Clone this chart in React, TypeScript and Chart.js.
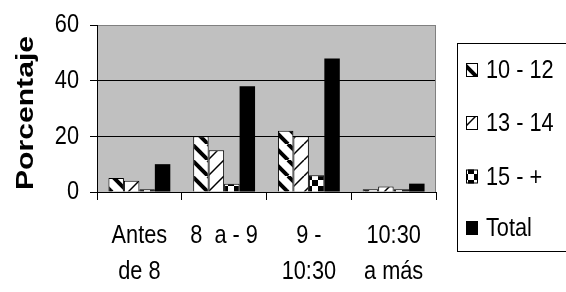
import { useEffect, useRef } from "react";
import { Chart, registerables } from "chart.js";
Chart.register(...registerables);

const categories = [["Antes", "de 8"], ["8  a - 9"], ["9 -", "10:30"], ["10:30", "a más"]];
const seriesNames = ["10 - 12", "13 - 14", "15 - +", "Total"];
const s1012 = [5, 20, 22, 1];
const s1314 = [4, 15, 20, 2];
const s15 = [1, 3, 6, 1];
const total = [10, 38, 48, 3];
const yMin = 0;
const yMax = 60;
const yStep = 20;
const yTitle = "Porcentaje";

const FONT = "'Liberation Sans', Arial, sans-serif";
const NARROW = 0.82;
const TEXT_SIZE = 26.5;

function narrowText(ctx: CanvasRenderingContext2D, text: string, x: number, y: number, align: CanvasTextAlign) {
  ctx.save();
  ctx.translate(x, y);
  ctx.scale(NARROW, 1);
  ctx.font = `${TEXT_SIZE}px ${FONT}`;
  ctx.fillStyle = "#000";
  ctx.textAlign = align;
  ctx.textBaseline = "middle";
  ctx.fillText(text, 0, 0);
  ctx.restore();
}

function makePattern(kind: string): any {
  const c = document.createElement("canvas");
  const ctx = c.getContext("2d") as CanvasRenderingContext2D;
  if (kind === "thick") {
    c.width = 16; c.height = 16;
    ctx.fillStyle = "#fff"; ctx.fillRect(0, 0, 16, 16);
    ctx.strokeStyle = "#000"; ctx.lineWidth = 4;
    for (const o of [-16, 0, 16]) { ctx.beginPath(); ctx.moveTo(o, 0); ctx.lineTo(o + 16, 16); ctx.stroke(); }
  } else if (kind === "thin") {
    c.width = 16; c.height = 16;
    ctx.fillStyle = "#fff"; ctx.fillRect(0, 0, 16, 16);
    ctx.strokeStyle = "#000"; ctx.lineWidth = 1.5;
    for (const o of [-16, 0, 16]) { ctx.beginPath(); ctx.moveTo(o, 16); ctx.lineTo(o + 16, 0); ctx.stroke(); }
  } else {
    c.width = 12; c.height = 12;
    ctx.fillStyle = "#fff"; ctx.fillRect(0, 0, 12, 12);
    ctx.fillStyle = "#000"; ctx.fillRect(0, 0, 6, 6); ctx.fillRect(6, 6, 6, 6);
  }
  return ctx.createPattern(c, "repeat");
}

const plotBg = {
  id: "plotBg",
  beforeDraw(chart: any) {
    const { ctx, chartArea: a } = chart;
    ctx.save();
    ctx.fillStyle = "#c0c0c0";
    ctx.fillRect(a.left, a.top, a.right - a.left, a.bottom - a.top);
    ctx.restore();
  },
  beforeDatasetsDraw(chart: any) {
    const { ctx, chartArea: a } = chart;
    ctx.save();
    ctx.strokeStyle = "#808080";
    ctx.lineWidth = 1;
    ctx.beginPath();
    ctx.moveTo(Math.round(a.right) - 0.5, a.top);
    ctx.lineTo(Math.round(a.right) - 0.5, a.bottom);
    ctx.stroke();
    ctx.restore();
  },
};

const tickLabels = {
  id: "tickLabels",
  afterDraw(chart: any) {
    const { ctx, chartArea: a } = chart;
    const ys = chart.scales.y;
    ys.ticks.forEach((t: any) => {
      narrowText(ctx, String(t.label), 79, ys.getPixelForValue(t.value), "right");
    });
    const xs = chart.scales.x;
    chart.data.labels.forEach((lab: any, i: number) => {
      const lines = Array.isArray(lab) ? lab : [lab];
      const x = xs.getPixelForTick(i);
      lines.forEach((ln: string, j: number) => {
        narrowText(ctx, ln, x, a.bottom + 43.5 + j * 36, "center");
      });
    });
  },
};

const customLegend = {
  id: "customLegend",
  afterDraw(chart: any) {
    const { ctx } = chart;
    ctx.save();
    ctx.strokeStyle = "#000";
    ctx.lineWidth = 1;
    ctx.strokeRect(457.5, 43.5, 140, 208);
    const rows = [70, 123, 176.5, 228];
    chart.data.datasets.forEach((ds: any, i: number) => {
      const y = rows[i];
      ctx.fillStyle = ds.backgroundColor;
      ctx.fillRect(466, y - 7, 12, 14);
      ctx.strokeStyle = "#000";
      ctx.strokeRect(466.5, y - 6.5, 11, 13);
      narrowText(ctx, ds.label, 486, y + 1, "left");
    });
    ctx.restore();
  },
};

const yTitlePlugin = {
  id: "yTitlePlugin",
  afterDraw(chart: any) {
    const { ctx } = chart;
    ctx.save();
    ctx.translate(24, 113);
    ctx.rotate(-Math.PI / 2);
    ctx.font = `bold 24.5px ${FONT}`;
    const w = ctx.measureText(yTitle).width;
    ctx.scale(154 / w, 1);
    ctx.fillStyle = "#000";
    ctx.textAlign = "center";
    ctx.textBaseline = "alphabetic";
    ctx.fillText(yTitle, 0, 9);
    ctx.restore();
  },
};

export default function App() {
  const ref = useRef<HTMLCanvasElement>(null);
  useEffect(() => {
    if (!ref.current) return;
    const patterns = [makePattern("thick"), makePattern("thin"), makePattern("check"), "#000"];
    const values = [s1012, s1314, s15, total];
    const chart = new Chart(ref.current, {
      type: "bar",
      data: {
        labels: categories as any,
        datasets: values.map((v, i) => ({
          label: seriesNames[i],
          data: v,
          backgroundColor: patterns[i],
          borderColor: "#000",
          borderWidth: i === 3 ? 0 : 1,
          categoryPercentage: 0.73,
          barPercentage: 1,
        })),
      },
      options: {
        responsive: false,
        animation: false,
        layout: { padding: { top: 25, right: 130, left: 0, bottom: 0 } },
        plugins: { legend: { display: false }, tooltip: { enabled: false } },
        scales: {
          x: {
            afterFit: (s: any) => { s.height = 100; },
            grid: { drawOnChartArea: false, tickLength: 8, color: "#000", offset: true },
            border: { display: true, color: "#000", width: 1 },
            ticks: { display: false, autoSkip: false },
          },
          y: {
            min: yMin,
            max: yMax,
            afterFit: (s: any) => { s.width = 97; },
            grid: {
              color: (c: any) => (c.tick && c.tick.value === yMax ? "#808080" : "#000"),
              tickColor: "#000",
              tickLength: 7,
            },
            border: { display: true, color: "#000", width: 1 },
            ticks: { display: false, stepSize: yStep },
          },
        },
      },
      plugins: [plotBg, tickLabels, customLegend, yTitlePlugin],
    });
    return () => chart.destroy();
  }, []);
  return (
    <div style={{ position: "fixed", left: 0, top: 0, width: 566, height: 292, background: "#fff" }}>
      <canvas ref={ref} width={566} height={292} />
    </div>
  );
}
